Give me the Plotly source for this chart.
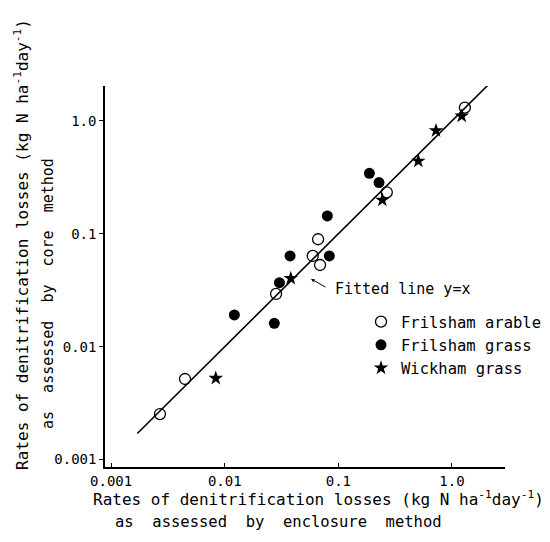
import numpy as np
import plotly.graph_objects as go

# ---- data (kg N ha-1 day-1) ----
arable_enclosure = [1.30, 0.267, 0.0663, 0.0595, 0.069, 0.0283, 0.00447, 0.00269]
arable_core      = [1.31, 0.233, 0.0894, 0.0636, 0.0529, 0.0293, 0.00517, 0.00253]

fgrass_enclosure = [0.1875, 0.228, 0.080, 0.0376, 0.0833, 0.0303, 0.01215, 0.0273]
fgrass_core      = [0.343, 0.284, 0.144, 0.0636, 0.0636, 0.0369, 0.0191, 0.0161]

wgrass_enclosure = [1.22, 0.724, 0.506, 0.244, 0.0381, 0.00834]
wgrass_core      = [1.105, 0.819, 0.441, 0.199, 0.0403, 0.00525]

fit_x = [0.0017, 2.2]
fit_y = fit_x  # fitted line y = x

tick_vals = [0.001, 0.01, 0.1, 1.0]
tick_text = ["0.001", "0.01", "0.1", "1.0"]

FONT = "DejaVu Sans Mono"
D = "\u00a0\u00a0"

fig = go.Figure()
fig.add_trace(go.Scatter(x=fit_x, y=fit_y, mode="lines",
                         line=dict(color="black", width=1.6),
                         showlegend=False, hoverinfo="skip"))
fig.add_trace(go.Scatter(x=arable_enclosure, y=arable_core, mode="markers",
                         name="Frilsham arable",
                         marker=dict(symbol="circle-open", size=11, color="black",
                                     line=dict(width=1.3, color="black"))))
fig.add_trace(go.Scatter(x=fgrass_enclosure, y=fgrass_core, mode="markers",
                         name="Frilsham grass",
                         marker=dict(symbol="circle", size=11, color="black")))
fig.add_trace(go.Scatter(x=wgrass_enclosure, y=wgrass_core, mode="markers",
                         name="Wickham grass",
                         marker=dict(symbol="star", size=11, color="black")))

axis_common = dict(type="log", showgrid=False, zeroline=False,
                   showline=True, linecolor="black", linewidth=1.5,
                   tickvals=tick_vals, ticktext=tick_text,
                   tickfont=dict(family=FONT, size=14, color="black"),
                   ticklen=4, tickcolor="black", mirror=False)

fig.update_layout(
    width=550, height=542, autosize=False,
    margin=dict(l=105, r=45, t=86, b=75, autoexpand=False),
    paper_bgcolor="white", plot_bgcolor="white",
    xaxis=dict(axis_common, range=[-3.054, 0.467], ticks="inside"),
    yaxis=dict(axis_common, range=[-3.066, 0.309], ticks="outside"),
    legend=dict(x=0.64, y=0.32, xanchor="left", yanchor="middle",
                font=dict(family=FONT, size=15.5, color="black"),
                bgcolor="rgba(0,0,0,0)", tracegroupgap=0, itemwidth=30),
    font=dict(family=FONT, color="black"),
)

title_font = dict(family=FONT, size=16, color="black")
line1 = "Rates of denitrification losses (kg N ha<sup>-1</sup>day<sup>-1</sup>)"
fig.add_annotation(xref="paper", yref="paper", x=0.5325, y=-0.083,
                   text=line1, showarrow=False, font=title_font,
                   xanchor="center", yanchor="middle")
fig.add_annotation(xref="paper", yref="paper", x=0.4325, y=-0.1444,
                   text="as" + D + "assessed" + D + "by" + D + "enclosure" + D + "method",
                   showarrow=False, font=dict(family=FONT, size=15.5, color="black"),
                   xanchor="center", yanchor="middle")
fig.add_annotation(xref="paper", yref="paper", x=-0.2075, y=0.583, textangle=-90,
                   text=line1, showarrow=False, font=title_font,
                   xanchor="center", yanchor="middle")
fig.add_annotation(xref="paper", yref="paper", x=-0.1425, y=0.454, textangle=-90,
                   text="as" + D + "assessed" + D + "by" + D + "core" + D + "method",
                   showarrow=False, font=dict(family=FONT, size=15, color="black"),
                   xanchor="center", yanchor="middle")

# fitted line label with pointer
fig.add_annotation(xref="paper", yref="paper", x=0.57, y=0.467,
                   text="Fitted line y=x", showarrow=False,
                   font=dict(family=FONT, size=15, color="black"),
                   xanchor="left", yanchor="middle")
fig.add_annotation(x=np.log10(0.0575), y=np.log10(0.0398), xref="x", yref="y",
                   text="", showarrow=True, ax=16, ay=9,
                   arrowhead=2, arrowsize=0.7, arrowwidth=1, arrowcolor="black")

fig.write_html("out.html")
